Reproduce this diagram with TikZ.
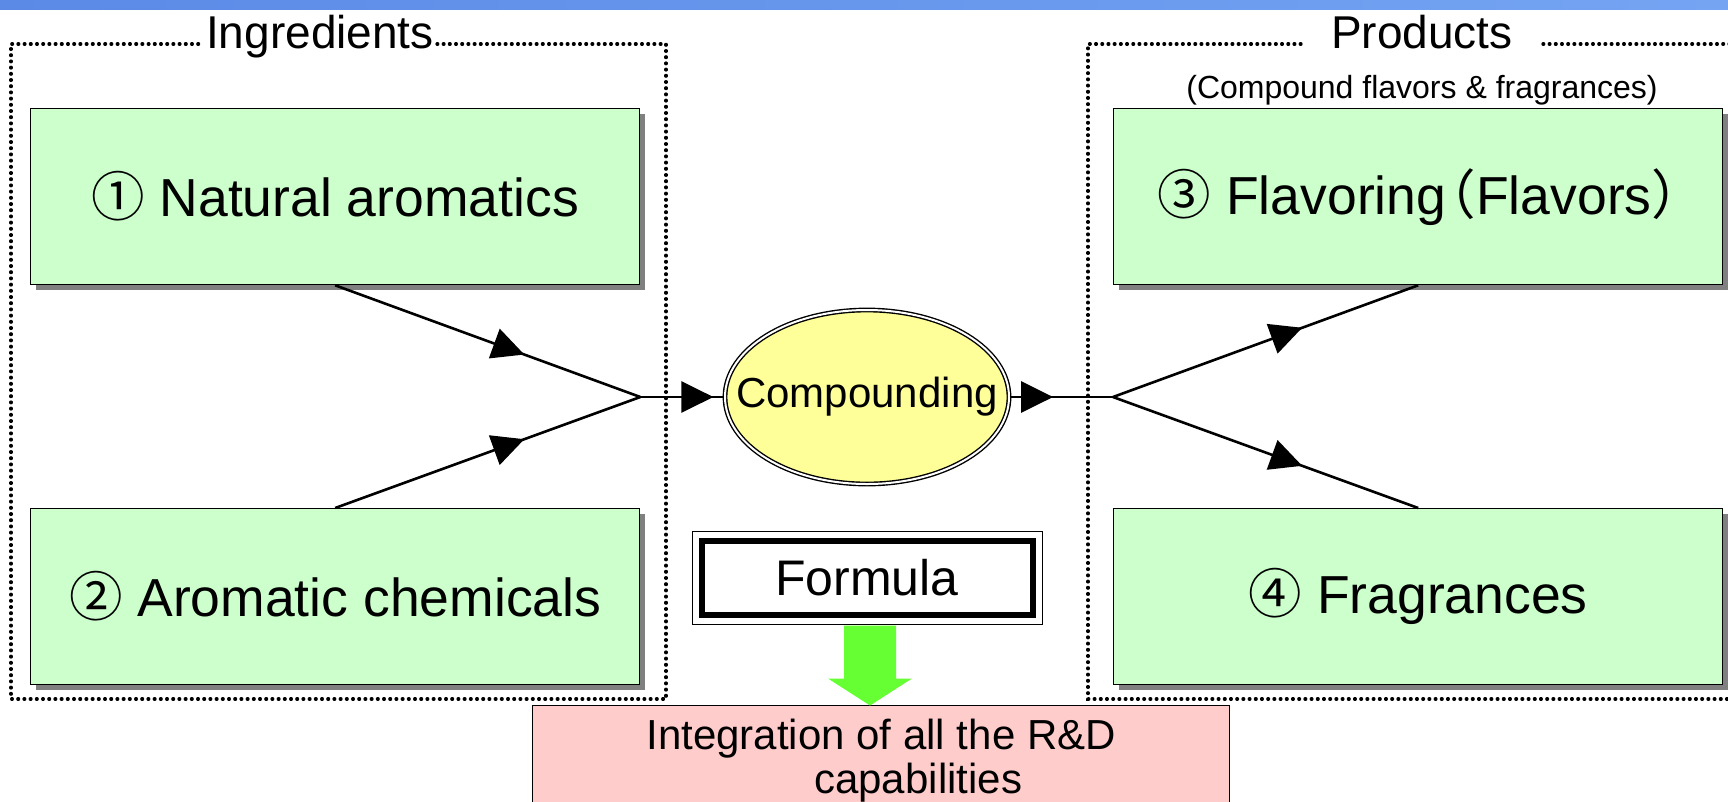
\documentclass[tikz,border=0pt]{standalone}
\usepackage{fontspec}
\setmainfont{Liberation Sans}
\newfontfamily\cjk{Noto Sans CJK JP}
\newfontfamily\cjkhalf[RawFeature=+halt]{Noto Sans CJK JP}
\usetikzlibrary{arrows.meta,decorations.markings,shapes.geometric,shadows,calc}
\definecolor{boxgreen}{HTML}{CCFFCC}
\definecolor{shadowgray}{HTML}{808080}
\definecolor{ellyellow}{HTML}{FFFF99}
\definecolor{pinkfill}{HTML}{FFCCCC}
\definecolor{arrowgreen}{HTML}{66FF33}
\definecolor{barA}{HTML}{5A8AE6}
\definecolor{barB}{HTML}{74A4F2}
\tikzset{
  gbox/.style={draw=black, line width=1.3pt, fill=boxgreen, minimum width=609pt, minimum height=176pt,
    anchor=north west, inner sep=0pt, font=\fontsize{53.5}{60}\selectfont,
    drop shadow={shadow xshift=5pt, shadow yshift=-5pt, fill=shadowgray, opacity=1}},
  dotbox/.style={line width=3.2pt, line cap=round, dash pattern=on 0.8pt off 5.4pt},
  conn/.style={line width=2.6pt, draw=black},
  tipmark/.style={postaction={decorate}, decoration={markings,
    mark=at position #1 with {\arrow{Triangle[length=32pt,width=31pt]}}}},
  titletext/.style={font=\fontsize{46}{52}\selectfont, inner sep=3pt, anchor=base},
}
\begin{document}
\begin{tikzpicture}[x=1pt,y=-1pt]
\clip (0,0) rectangle (1728,801);
\fill[white] (0,0) rectangle (1728,801);
% top bar
\shade[left color=barA, right color=barB] (0,0) rectangle (1728,9);

% group labels
\node[titletext] (ing) at (320,48) {Ingredients};
\node[titletext, inner xsep=30pt] (prod) at (1422,48) {Products};
\node[font=\fontsize{32}{36}\selectfont, anchor=base] (sub) at (1422,98) {(Compound flavors \& fragrances)};

% dotted group frames
\draw[dotbox] (ing.east |- 0,44) -- (666,44) -- (666,699) -- (11,699) -- (11,44) -- (ing.west |- 0,44);
\draw[dotbox] (prod.west |- 0,44) -- (1088,44) -- (1088,699) -- (1740,699);
\draw[dotbox] (prod.east |- 0,44) -- (1740,44);

% green boxes
\node[gbox] (n1) at (30,108) {{\cjk ①} Natural aromatics};
\node[gbox] (n2) at (30,508) {{\cjk ②} Aromatic chemicals};
\node[gbox] (n3) at (1113,108) {{\cjk ③} Flavoring\kern0.06em{\cjkhalf （}Flavors{\cjkhalf ）}};
\node[gbox] (n4) at (1113,508) {{\cjk ④} Fragrances};

% compounding ellipse
\node[ellipse, draw=black, line width=1.4pt, double=white, double distance=2pt, fill=ellyellow,
      minimum width=284pt, minimum height=174pt, inner sep=0pt] (comp) at (867,397) {};
\node[font=\fontsize{42}{48}\selectfont, inner sep=0pt] (comptext) at (comp.center) {Compounding};

% junctions
\coordinate (jl) at (n1.east |- comp.west);
\coordinate (jr) at (n3.west |- comp.east);

% connectors
\draw[conn, tipmark=0.62] (n1.south) -- (jl);
\draw[conn, tipmark=0.62] (n2.north) -- (jl);
\draw[conn, tipmark=0.87] (jl) -- (comp.west);
\draw[conn, tipmark=0.42] (comp.east) -- (jr);
\draw[conn, tipmark=0.62] (jr) -- (n3.south);
\draw[conn, tipmark=0.62] (jr) -- (n4.north);

% formula box
\node[draw=black, line width=1pt, fill=white, minimum width=350pt, minimum height=93pt, inner sep=0pt,
      font=\fontsize{50}{56}\selectfont] (formula) at (867,577.5) {Formula};
\draw[line width=6pt] ([shift={(10pt,-10pt)}]formula.north west) rectangle ([shift={(-10pt,10pt)}]formula.south east);

% pink box
\node[draw=black, line width=1.3pt, fill=pinkfill, minimum width=697pt, minimum height=110pt, inner sep=0pt,
      anchor=north west, align=center, font=\fontsize{42}{44}\selectfont] (pink) at (532,705)
      {Integration of all the R\&D\\\hspace*{74pt}capabilities};

% green block arrow from formula to pink box
\fill[arrowgreen] ($(formula.south)+(-23,1)$) -- ($(formula.south)+(-23,54)$) -- ($(formula.south)+(-39,54)$)
   -- ($(formula.south)+(3,81)$) -- ($(formula.south)+(45,54)$) -- ($(formula.south)+(29,54)$)
   -- ($(formula.south)+(29,1)$) -- cycle;
\end{tikzpicture}
\end{document}
